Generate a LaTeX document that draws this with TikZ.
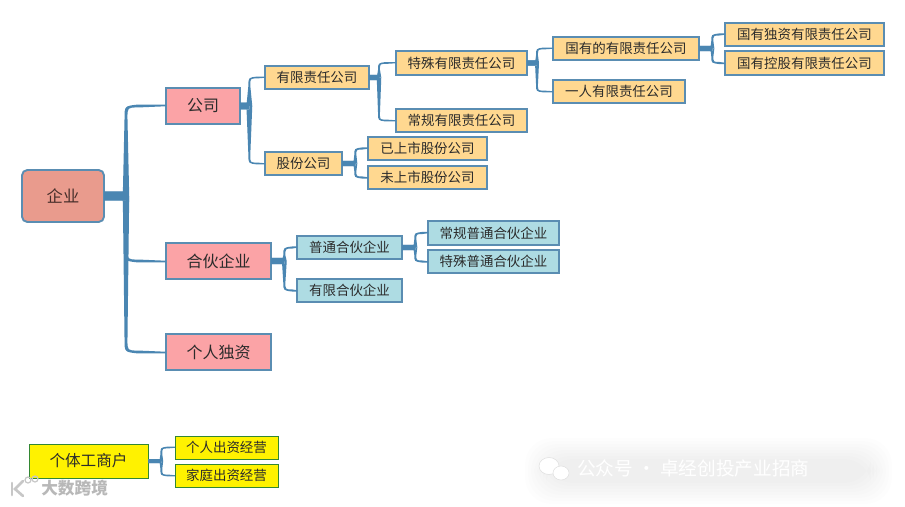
\documentclass[tikz,border=0pt]{standalone}
\usepackage{fontspec}
\setmainfont{Noto Sans CJK SC}
\usetikzlibrary{calc,shapes.geometric}
\definecolor{brn}{HTML}{4A86B2}
\definecolor{edge}{HTML}{5A8DB2}
\definecolor{rootc}{HTML}{E99B8D}
\definecolor{pinkc}{HTML}{FBA3A6}
\definecolor{orangec}{HTML}{FFD890}
\definecolor{tealc}{HTML}{AEDCE3}
\definecolor{txt}{HTML}{2B2B2B}
\tikzset{
  box/.style={draw=edge,line width=1.4pt,inner sep=0pt,outer sep=0pt,text=txt,align=center},
  rootbox/.style={box,fill=rootc,rounded corners=4pt,font=\fontsize{12.2}{14}\selectfont,text=black!70!rootc},
  lvlone/.style={box,fill=pinkc,font=\fontsize{12}{14}\selectfont},
  orangebox/.style={box,fill=orangec,font=\fontsize{10.1}{12}\selectfont},
  tealbox/.style={box,fill=tealc,font=\fontsize{10.1}{12}\selectfont},
  yelbig/.style={draw=black!45!green!60!gray,line width=0.7pt,inner sep=0pt,outer sep=0pt,fill=yellow,text=txt,font=\fontsize{11.7}{14}\selectfont},
  yelsmall/.style={yelbig,font=\fontsize{10.1}{12}\selectfont},
  wmark/.style={font=\bfseries\fontsize{12.5}{14}\selectfont,text=black!28},
  wmarkw/.style={font=\fontsize{14}{16}\selectfont,text=white},
}
% name, x1, y1, x2, y2, style, text (pixel coordinates)
\newcommand{\bx}[7]{\node[#6,minimum width={(#4-#2)*0.75pt},minimum height={(#5-#3)*0.75pt}] (#1) at ({(#2+#4)/2},{(#3+#5)/2}) {#7};}
% from, to, stub length (pt), half width at trunk (pt), half width at end (pt), corner radius (pt), half width of stub (pt)
\newcommand{\conn}[7]{%
  \fill[brn] let \p1=(#1.east), \p2=(#2.west), \n{m}={\x1+#3pt}, \n{d}={(\y2>\y1)?1:-1} in
    (\x1,{\y1+#7pt}) -- (\n{m},{\y1+#7pt}) -- (\n{m},{\y1-#7pt}) -- (\x1,{\y1-#7pt}) -- cycle
    ({\n{m}-#4pt},\y1)
    -- ({\n{m}-#5pt},{\y2-\n{d}*#6pt})
    .. controls ({\n{m}-#5pt},\y2) .. ({\n{m}+#6pt},{\y2+\n{d}*#5pt})
    -- (\x2,{\y2+\n{d}*#5pt}) -- (\x2,{\y2-\n{d}*0.2pt}) -- ({\n{m}+#6pt},{\y2-\n{d}*#5pt})
    .. controls ({\n{m}+#5pt},{\y2-\n{d}*#5pt}) .. ({\n{m}+#5pt},{\y2-\n{d}*#6pt})
    -- ({\n{m}+#4pt},\y1) -- cycle;}
\begin{document}
\begin{tikzpicture}[x=0.75pt,y=-0.75pt]
\useasboundingbox (0,0) rectangle (905,506);
\fill[white] (0,0) rectangle (905,506);
% faint watermark panel
\foreach \i in {0,...,7}{
  \fill[black,opacity=0.006,rounded corners=20pt] ({525+\i*3},{438+\i*3}) rectangle ({892-\i*3},{504-\i*3});
}
% nodes
\bx{root}{22}{170}{104}{222}{rootbox}{企业}
\bx{gs}{166}{88}{240}{124}{lvlone}{公司}
\bx{hh}{166}{243}{271}{279}{lvlone}{合伙企业}
\bx{gr}{166}{334}{271}{370}{lvlone}{个人独资}
\bx{yx}{265}{66}{369}{89}{orangebox}{有限责任公司}
\bx{gf}{265}{152}{342}{175}{orangebox}{股份公司}
\bx{ts}{396}{51}{527}{75}{orangebox}{特殊有限责任公司}
\bx{cg}{396}{109}{527}{132}{orangebox}{常规有限责任公司}
\bx{gy}{553}{37}{699}{60}{orangebox}{国有的有限责任公司}
\bx{yr}{553}{80}{685}{103}{orangebox}{一人有限责任公司}
\bx{dz}{725}{23}{884}{46}{orangebox}{国有独资有限责任公司}
\bx{kg}{725}{51}{884}{75}{orangebox}{国有控股有限责任公司}
\bx{ss}{368}{137}{487}{160}{orangebox}{已上市股份公司}
\bx{ws}{368}{166}{487}{189}{orangebox}{未上市股份公司}
\bx{pt}{297}{236}{402}{259}{tealbox}{普通合伙企业}
\bx{yh}{297}{279}{402}{302}{tealbox}{有限合伙企业}
\bx{cp}{428}{221}{559}{245}{tealbox}{常规普通合伙企业}
\bx{tp}{428}{250}{559}{273}{tealbox}{特殊普通合伙企业}
\bx{gt}{29}{444}{148}{478}{yelbig}{个体工商户}
\bx{gc}{175}{436}{278}{459}{yelsmall}{个人出资经营}
\bx{jt}{175}{464}{278}{487}{yelsmall}{家庭出资经营}
% connectors
\begin{scope}[on background layer/.style={}]
\conn{root}{gs}{16.5}{2.4}{1.1}{9}{3.2}
\conn{root}{hh}{16.5}{2.4}{1.1}{9}{3.2}
\conn{root}{gr}{16.5}{2.4}{1.1}{9}{3.2}
\conn{gs}{yx}{7}{2.2}{0.7}{6}{2.6}
\conn{gs}{gf}{7}{2.2}{0.7}{6}{2.6}
\conn{hh}{pt}{10}{1.8}{0.8}{6}{2.4}
\conn{hh}{yh}{10}{1.8}{0.8}{6}{2.4}
\conn{yx}{ts}{7.5}{1.7}{0.7}{5}{2}
\conn{yx}{cg}{7.5}{1.7}{0.7}{5}{2}
\conn{gf}{ss}{10}{1.5}{0.8}{5}{1.9}
\conn{gf}{ws}{10}{1.5}{0.8}{5}{1.9}
\conn{ts}{gy}{7.5}{1.5}{0.7}{5}{1.9}
\conn{ts}{yr}{7.5}{1.5}{0.7}{5}{1.9}
\conn{gy}{dz}{10}{1.5}{0.8}{5}{2}
\conn{gy}{kg}{10}{1.5}{0.8}{5}{2}
\conn{pt}{cp}{10}{1.5}{0.8}{5}{2}
\conn{pt}{tp}{10}{1.5}{0.8}{5}{2}
\conn{gt}{gc}{10}{1.4}{0.7}{5}{1.5}
\conn{gt}{jt}{10}{1.4}{0.7}{5}{1.5}
\end{scope}
% watermarks
\node[wmark,anchor=west,inner sep=0pt] (wma) at (41,488) {大数跨境};
\node[wmarkw,anchor=west,inner sep=0pt] (wmb) at (577,468) {公众号 · 卓经创投产业招商};
\fill[white,draw=black!12,line width=0.4pt] (549,466) ellipse [x radius=10,y radius=8.5];
\fill[white,draw=black!12,line width=0.4pt] (561,473) ellipse [x radius=8,y radius=7];
\draw[black!22,line width=2pt,line cap=round] (12,483) -- (12,495);
\draw[black!22,line width=2pt,line cap=round] (23,481) -- (15,489) -- (23,496);
\draw[black!22,line width=0.9pt] (28,480) circle [radius=3];
\draw[black!22,line width=0.9pt] (35,479) circle [radius=3];
\end{tikzpicture}
\end{document}
